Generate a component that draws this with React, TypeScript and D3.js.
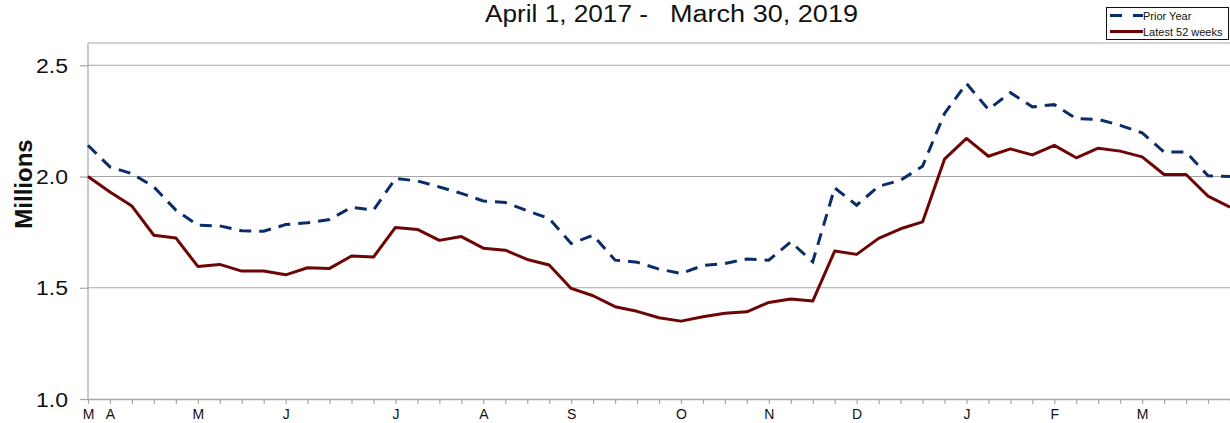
import React, { useEffect, useRef } from "react";
import * as d3 from "d3";

const width = 1230;
const height = 423;

// weekly values, millions
const latest52 = [
  2.0, 1.93, 1.867, 1.736, 1.724, 1.596, 1.605, 1.575, 1.575, 1.558, 1.59, 1.587, 1.643, 1.638,
  1.771, 1.762, 1.713, 1.73, 1.678, 1.669, 1.627, 1.602, 1.497, 1.464, 1.415, 1.394, 1.365, 1.35,
  1.37, 1.385, 1.392, 1.434, 1.449, 1.44, 1.665, 1.65, 1.722, 1.765, 1.796, 2.078, 2.171, 2.091,
  2.124, 2.097, 2.14, 2.084, 2.127, 2.114, 2.088, 2.009, 2.009, 1.912, 1.862,
];
const priorYear = [
  2.14, 2.043, 2.013, 1.953, 1.849, 1.781, 1.778, 1.756, 1.754, 1.784, 1.792, 1.807, 1.861, 1.849,
  1.991, 1.98, 1.953, 1.924, 1.89, 1.883, 1.846, 1.811, 1.699, 1.736, 1.624, 1.615, 1.584, 1.564,
  1.6, 1.609, 1.629, 1.624, 1.706, 1.617, 1.949, 1.871, 1.956, 1.983, 2.046, 2.283, 2.418, 2.301,
  2.377, 2.313, 2.323, 2.26, 2.257, 2.23, 2.196, 2.11, 2.11, 2.003, 2.0,
];
const monthLabels = ["M", "A", "M", "J", "J", "A", "S", "O", "N", "D", "J", "F", "M"];
const monthWeeks = [0, 1, 5, 9, 14, 18, 22, 27, 31, 35, 40, 44, 48];
const yTicks = [1.0, 1.5, 2.0, 2.5];
const titleParts = ["April 1, 2017 -", "March 30, 2019"];
const seriesNames = ["Prior Year", "Latest 52 weeks"];

const margin = { top: 43, right: 0, bottom: 24, left: 88 };
const blue = "#0a2d6a";
const red = "#6e0505";
const grid = "#a6a6a6";
const font = "'Liberation Sans', Arial, sans-serif";

function WeeklyChart() {
  const svgRef = useRef(null);

  useEffect(() => {
    const svg = d3.select(svgRef.current);
    svg.selectAll("*").remove();

    const xScale = d3
      .scaleLinear()
      .domain([0, latest52.length - 1])
      .range([margin.left, width - margin.right]);
    const yScale = d3.scaleLinear().domain([1.0, 2.6]).range([height - margin.bottom, margin.top]);

    // gridlines + frame top
    svg
      .append("g")
      .selectAll("line")
      .data([...yTicks.slice(1), 2.6])
      .join("line")
      .attr("x1", margin.left)
      .attr("x2", width)
      .attr("y1", (d) => yScale(d))
      .attr("y2", (d) => yScale(d))
      .attr("stroke", grid)
      .attr("stroke-width", 1.2);

    // y axis
    const yAxis = d3
      .axisLeft(yScale)
      .tickValues(yTicks)
      .tickFormat(d3.format(".1f"))
      .tickSizeInner(8)
      .tickSizeOuter(0)
      .tickPadding(12);
    svg
      .append("g")
      .attr("transform", `translate(${margin.left},0)`)
      .call(yAxis)
      .call((g) => g.select(".domain").attr("stroke", grid).attr("stroke-width", 1.2).attr("d", `M0,${yScale(2.6)}V${yScale(1.0)}`))
      .call((g) => g.selectAll(".tick line").attr("stroke", grid).attr("stroke-width", 1.2))
      .call((g) =>
        g
          .selectAll(".tick text")
          .attr("fill", "#111")
          .style("font-family", font)
          .style("font-size", "20px")
          .attr("textLength", 32)
          .attr("lengthAdjust", "spacingAndGlyphs")
          .attr("dy", "0.36em")
      );

    // x axis
    const xAxis = d3
      .axisBottom(xScale)
      .tickValues(d3.range(latest52.length))
      .tickFormat((d) => {
        const k = monthWeeks.indexOf(d as number);
        return k >= 0 ? monthLabels[k] : "";
      })
      .tickSizeInner(5)
      .tickSizeOuter(0)
      .tickPadding(5);
    svg
      .append("g")
      .attr("transform", `translate(0,${yScale(1.0)})`)
      .call(xAxis)
      .call((g) => g.select(".domain").attr("stroke", grid).attr("stroke-width", 1.5))
      .call((g) => g.selectAll(".tick line").attr("stroke", grid).attr("stroke-width", 1.2))
      .call((g) =>
        g.selectAll(".tick text").attr("fill", "#111").style("font-family", font).style("font-size", "14px")
      );

    // lines
    const line = d3
      .line<number>()
      .x((_, i) => xScale(i))
      .y((d) => yScale(d));

    svg
      .append("path")
      .datum(priorYear)
      .attr("d", line)
      .attr("fill", "none")
      .attr("stroke", blue)
      .attr("stroke-width", 3)
      .attr("stroke-dasharray", "12,8");

    svg
      .append("path")
      .datum(latest52)
      .attr("d", line)
      .attr("fill", "none")
      .attr("stroke", red)
      .attr("stroke-width", 3)
      .attr("stroke-linejoin", "round");

    // title
    svg
      .append("text")
      .attr("x", 485)
      .attr("y", 22)
      .attr("textLength", 163)
      .attr("lengthAdjust", "spacingAndGlyphs")
      .style("font-family", font)
      .style("font-size", "23px")
      .attr("fill", "#111")
      .text(titleParts[0]);
    svg
      .append("text")
      .attr("x", 670)
      .attr("y", 22)
      .attr("textLength", 188)
      .attr("lengthAdjust", "spacingAndGlyphs")
      .style("font-family", font)
      .style("font-size", "23px")
      .attr("fill", "#111")
      .text(titleParts[1]);

    // y label
    svg
      .append("text")
      .attr("transform", `translate(32,184) rotate(-90)`)
      .attr("text-anchor", "middle")
      .style("font-family", font)
      .style("font-size", "24px")
      .style("font-weight", "bold")
      .attr("fill", "#111")
      .text("Millions");

    // legend
    const lg = svg.append("g");
    lg.append("rect")
      .attr("x", 1106.5)
      .attr("y", 7.5)
      .attr("width", 122)
      .attr("height", 32)
      .attr("fill", "white")
      .attr("stroke", "#111")
      .attr("stroke-width", 1);
    const rows = [
      { name: seriesNames[0], color: blue, dash: "12,11" },
      { name: seriesNames[1], color: red, dash: null },
    ];
    rows.forEach((r, i) => {
      const y = 15.5 + i * 16;
      lg.append("line")
        .attr("x1", 1110)
        .attr("x2", 1143)
        .attr("y1", y)
        .attr("y2", y)
        .attr("stroke", r.color)
        .attr("stroke-width", 3)
        .attr("stroke-dasharray", r.dash);
      lg.append("text")
        .attr("x", 1143)
        .attr("y", y + 4)
        .style("font-family", font)
        .style("font-size", "11px")
        .attr("fill", "#111")
        .text(r.name);
    });
  }, []);

  return (
    <svg
      ref={svgRef}
      width={width}
      height={height}
      style={{ position: "absolute", left: 0, top: 0, background: "white" }}
    />
  );
}

export default function App() {
  return <WeeklyChart />;
}
